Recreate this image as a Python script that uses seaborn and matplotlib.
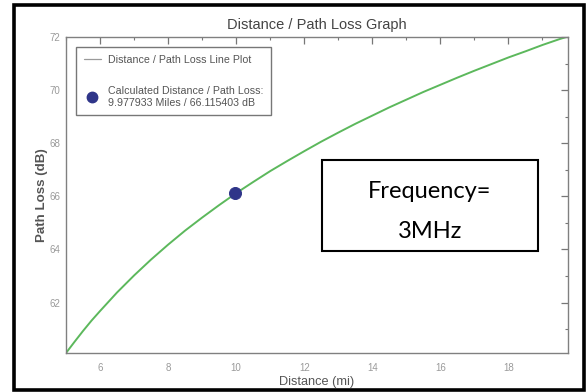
import matplotlib
matplotlib.use("Agg")
import matplotlib.pyplot as plt
import seaborn as sns
import pandas as pd
from matplotlib.lines import Line2D
from matplotlib.patches import Rectangle
from matplotlib.ticker import MultipleLocator

# Data
distance_mi = [5.0, 5.25, 5.5, 5.75, 6, 6.5, 7, 7.5, 8, 8.5, 9, 9.5, 10, 10.5, 11, 11.5,
               12, 12.5, 13, 13.5, 14, 14.5, 15, 15.5, 16, 16.5, 17, 17.5, 18, 18.5,
               19, 19.25, 19.5, 19.75]
path_loss_db = [60.1, 60.52, 60.93, 61.32, 61.68, 62.38, 63.02, 63.62, 64.18, 64.71,
                65.2, 65.67, 66.12, 66.54, 66.95, 67.33, 67.7, 68.06, 68.4, 68.73,
                69.04, 69.35, 69.64, 69.93, 70.2, 70.47, 70.73, 70.98, 71.23, 71.46,
                71.7, 71.81, 71.92, 72.02]
calc_distance = [9.977933]
calc_loss = [66.115403]
x_ticks = [6, 8, 10, 12, 14, 16, 18]
y_ticks = [62, 64, 66, 68, 70, 72]

sns.set_style("white")
narrow = ["Liberation Sans Narrow", "Liberation Sans", "DejaVu Sans"]
plt.rcParams["font.family"] = narrow

fig = plt.figure(figsize=(5.86, 3.92), dpi=100)
ax = fig.add_axes([66/586, 1-353/392, (568-66)/586, (353-37)/392])

df = pd.DataFrame({"d": distance_mi, "pl": path_loss_db})
sns.lineplot(data=df, x="d", y="pl", ax=ax, color="#5cb85c", lw=1.4)
sns.scatterplot(x=calc_distance, y=calc_loss, ax=ax, color="#2f3589", s=75,
                edgecolor="#2f3589", zorder=5)

ax.set_xlim(5.0, 19.75)
ax.set_ylim(60.1, 72.0)
ax.set_xticks(x_ticks)
ax.set_yticks(y_ticks)
ax.xaxis.set_minor_locator(MultipleLocator(1))
ax.yaxis.set_minor_locator(MultipleLocator(1))
ax.tick_params(which="both", direction="in", top=True, right=True,
               color="#777777", labelcolor="#9a9a9a", labelsize=7)
ax.tick_params(which="major", length=5, width=0.9)
ax.tick_params(which="minor", length=2.5, width=0.8)
ax.tick_params(axis="x", pad=7)
ax.tick_params(axis="y", pad=4)
for s in ax.spines.values():
    s.set_color("#808080")
    s.set_linewidth(1.0)

ax.set_title("Distance / Path Loss Graph", fontsize=10.5, color="#444444", pad=6)
ax.set_xlabel("Distance (mi)", fontsize=9.2, color="#555555", labelpad=2)
ax.set_ylabel("Path Loss (dB)", fontsize=9.6, color="#555555", fontweight="bold", labelpad=1)

handles = [
    Line2D([0], [0], color="#9a9a9a", lw=0.9),
    Line2D([0], [0], marker="o", color="none", markerfacecolor="#2f3589",
           markeredgecolor="#2f3589", markersize=7.5),
]
labels = ["Distance / Path Loss Line Plot",
          "Calculated Distance / Path Loss:\n9.977933 Miles / 66.115403 dB"]
leg = ax.legend(handles, labels, loc="upper left", bbox_to_anchor=(0.02, 0.968),
                borderaxespad=0, fontsize=7.7, frameon=True, fancybox=False, framealpha=1,
                edgecolor="#777777", labelspacing=2.0, handlelength=1.6,
                borderpad=0.7, handletextpad=0.7)
for t in leg.get_texts():
    t.set_color("#555555")
leg.get_frame().set_linewidth(1.0)

# Frequency annotation box
fig.patches.append(Rectangle((322/586, 1-251/392), (538-322)/586, (251-160)/392,
                             transform=fig.transFigure, fill=True, facecolor="white",
                             edgecolor="black", lw=1.5, zorder=10))
fig.text(430/586, 1-192/392, "Frequency=", fontsize=17, family=["Lato", "DejaVu Sans"],
         ha="center", va="center", color="black", zorder=11)
fig.text(430/586, 1-232/392, "3MHz", fontsize=17, family=["Lato", "DejaVu Sans"],
         ha="center", va="center", color="black", zorder=11)

# outer border
fig.patches.append(Rectangle((14/586, 1-390/392), (584-14)/586, (390-5)/392,
                             transform=fig.transFigure, fill=False,
                             edgecolor="black", lw=2.6, zorder=12))

fig.savefig("out.png", dpi=100)
